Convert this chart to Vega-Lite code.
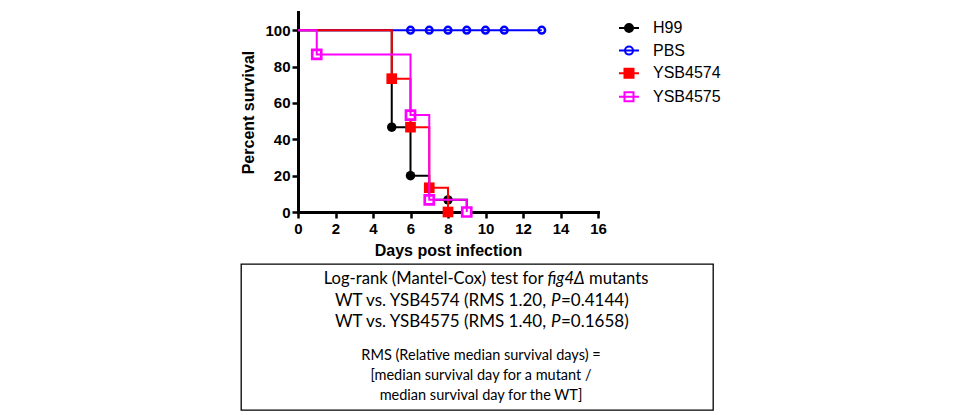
{
  "$schema": "https://vega.github.io/schema/vega-lite/v6.json",
  "background": "white",
  "padding": {"left": 240, "top": 12, "right": 5, "bottom": 0},
  "spacing": 5,
  "columns": 1,
  "align": "none",
  "resolve": {"scale": {"color": "independent"}, "legend": {"color": "independent"}},
  "config": {"view": {"stroke": null}, "font": "Liberation Sans"},
  "datasets": {
    "survival": [
      {"series": "H99", "day": 0, "survival": 100},
      {"series": "H99", "day": 5, "survival": 46.67},
      {"series": "H99", "day": 6, "survival": 20},
      {"series": "H99", "day": 7, "survival": 6.67},
      {"series": "H99", "day": 8, "survival": 6.67},
      {"series": "H99", "day": 9, "survival": 0},
      {"series": "PBS", "day": 0, "survival": 100},
      {"series": "PBS", "day": 6, "survival": 100},
      {"series": "PBS", "day": 7, "survival": 100},
      {"series": "PBS", "day": 8, "survival": 100},
      {"series": "PBS", "day": 9, "survival": 100},
      {"series": "PBS", "day": 10, "survival": 100},
      {"series": "PBS", "day": 11, "survival": 100},
      {"series": "PBS", "day": 13, "survival": 100},
      {"series": "YSB4574", "day": 0, "survival": 100},
      {"series": "YSB4574", "day": 5, "survival": 73.33},
      {"series": "YSB4574", "day": 6, "survival": 46.67},
      {"series": "YSB4574", "day": 7, "survival": 13.33},
      {"series": "YSB4574", "day": 8, "survival": 0},
      {"series": "YSB4575", "day": 0, "survival": 100},
      {"series": "YSB4575", "day": 1, "survival": 86.67},
      {"series": "YSB4575", "day": 6, "survival": 53.33},
      {"series": "YSB4575", "day": 7, "survival": 6.67},
      {"series": "YSB4575", "day": 9, "survival": 0}
    ],
    "notes": [
      {"line": 1, "part": "pre", "text": "Log-rank (Mantel-Cox) test for"},
      {"line": 1, "part": "it", "text": "fig4Δ"},
      {"line": 1, "part": "post", "text": "mutants"},
      {"line": 2, "part": "pre", "text": "WT vs. YSB4574 (RMS 1.20,"},
      {"line": 2, "part": "it", "text": "P"},
      {"line": 2, "part": "post", "text": "=0.4144)"},
      {"line": 3, "part": "pre", "text": "WT vs. YSB4575 (RMS 1.40,"},
      {"line": 3, "part": "it", "text": "P"},
      {"line": 3, "part": "post", "text": "=0.1658)"},
      {"line": 4, "part": "full", "text": "RMS (Relative median survival days) ="},
      {"line": 5, "part": "full", "text": "[median survival day for a mutant  /"},
      {"line": 6, "part": "full", "text": "median survival day for the WT]"}
    ]
  },
  "concat": [
    {
      "width": 357,
      "height": 200,
      "data": {"name": "survival"},
      "encoding": {
        "x": {
          "field": "day", "type": "quantitative",
          "scale": {"domain": [0, 16], "range": [57, 357], "nice": false, "zero": false},
          "axis": {
            "title": "Days post infection", "values": [0, 2, 4, 6, 8, 10, 12, 14, 16],
            "grid": false, "domainColor": "#000000", "domainWidth": 3, "domainCap": "square",
            "tickColor": "#000000", "tickWidth": 2.5, "tickSize": 6,
            "labelFont": "Liberation Sans", "labelFontSize": 15, "labelFontWeight": "bold", "labelColor": "#000000",
            "labelPadding": 3, "labelFlush": false, "labelOverlap": false,
            "titleFont": "Liberation Sans", "titleFontSize": 16, "titleFontWeight": "bold", "titleColor": "#000000",
            "titlePadding": 6
          }
        },
        "y": {
          "field": "survival", "type": "quantitative",
          "scale": {"domain": [0, 110], "nice": false},
          "axis": {
            "title": "Percent survival", "values": [0, 20, 40, 60, 80, 100], "offset": -57,
            "grid": false, "domainColor": "#000000", "domainWidth": 3, "domainCap": "square",
            "tickColor": "#000000", "tickWidth": 2.5, "tickSize": 6,
            "labelFont": "Liberation Sans", "labelFontSize": 15, "labelFontWeight": "bold", "labelColor": "#000000",
            "labelPadding": 2, "labelOverlap": false,
            "titleFont": "Liberation Sans", "titleFontSize": 16, "titleFontWeight": "bold", "titleColor": "#000000",
            "titlePadding": 8
          }
        }
      },
      "layer": [
        {
          "transform": [{"filter": "datum.series === 'H99'"}],
          "mark": {"type": "line", "interpolate": "step-after", "strokeWidth": 2},
          "encoding": {"color": {"field": "series", "type": "nominal",
            "scale": {"domain": ["H99", "PBS", "YSB4574", "YSB4575"], "range": ["#000000", "#0000ff", "#ff0000", "#ff00ff"]},
            "legend": {"title": null, "orient": "right", "offset": 15, "padding": 5, "symbolSize": 400, "symbolStrokeWidth": 2,
              "labelFont": "Liberation Sans", "labelFontSize": 16, "labelColor": "#000000", "labelOffset": 13, "rowPadding": 3.6,
              "encode": {"symbols": {"update": {
                "shape": {"signal": "(datum.value === 'H99' || datum.value === 'PBS') ? 'M-1,0H1M0.4,0A0.4,0.4,0,1,1,-0.4,0A0.4,0.4,0,1,1,0.4,0Z' : 'M-1,0H1M-0.45,-0.45H0.45V0.45H-0.45Z'"},
                "fill": {"signal": "datum.value === 'H99' ? '#000000' : datum.value === 'YSB4574' ? '#ff0000' : '#ffffff'"},
                "opacity": {"value": 1}, "strokeWidth": {"value": 2}}}}}}}
        },
        {
          "transform": [{"filter": "datum.series === 'H99' && datum.day > 0"}],
          "mark": {"type": "point", "shape": "circle", "filled": true, "color": "#000000", "size": 90, "opacity": 1}
        },
        {
          "transform": [{"filter": "datum.series === 'PBS' && datum.day > 0"}],
          "mark": {"type": "point", "shape": "circle", "filled": true, "fill": "#ffffff", "stroke": "#0000ff", "strokeWidth": 2.5, "size": 45, "opacity": 1}
        },
        {
          "transform": [{"filter": "datum.series === 'PBS'"}],
          "mark": {"type": "line", "interpolate": "step-after", "strokeWidth": 2},
          "encoding": {"color": {"field": "series", "type": "nominal",
            "scale": {"domain": ["H99", "PBS", "YSB4574", "YSB4575"], "range": ["#000000", "#0000ff", "#ff0000", "#ff00ff"]},
            "legend": {"title": null, "orient": "right", "offset": 15, "padding": 5, "symbolSize": 400, "symbolStrokeWidth": 2,
              "labelFont": "Liberation Sans", "labelFontSize": 16, "labelColor": "#000000", "labelOffset": 13, "rowPadding": 3.6,
              "encode": {"symbols": {"update": {
                "shape": {"signal": "(datum.value === 'H99' || datum.value === 'PBS') ? 'M-1,0H1M0.4,0A0.4,0.4,0,1,1,-0.4,0A0.4,0.4,0,1,1,0.4,0Z' : 'M-1,0H1M-0.45,-0.45H0.45V0.45H-0.45Z'"},
                "fill": {"signal": "datum.value === 'H99' ? '#000000' : datum.value === 'YSB4574' ? '#ff0000' : '#ffffff'"},
                "opacity": {"value": 1}, "strokeWidth": {"value": 2}}}}}}}
        },
        {
          "transform": [{"filter": "datum.series === 'YSB4574'"}],
          "mark": {"type": "line", "interpolate": "step-after", "strokeWidth": 2},
          "encoding": {"color": {"field": "series", "type": "nominal",
            "scale": {"domain": ["H99", "PBS", "YSB4574", "YSB4575"], "range": ["#000000", "#0000ff", "#ff0000", "#ff00ff"]},
            "legend": {"title": null, "orient": "right", "offset": 15, "padding": 5, "symbolSize": 400, "symbolStrokeWidth": 2,
              "labelFont": "Liberation Sans", "labelFontSize": 16, "labelColor": "#000000", "labelOffset": 13, "rowPadding": 3.6,
              "encode": {"symbols": {"update": {
                "shape": {"signal": "(datum.value === 'H99' || datum.value === 'PBS') ? 'M-1,0H1M0.4,0A0.4,0.4,0,1,1,-0.4,0A0.4,0.4,0,1,1,0.4,0Z' : 'M-1,0H1M-0.45,-0.45H0.45V0.45H-0.45Z'"},
                "fill": {"signal": "datum.value === 'H99' ? '#000000' : datum.value === 'YSB4574' ? '#ff0000' : '#ffffff'"},
                "opacity": {"value": 1}, "strokeWidth": {"value": 2}}}}}}}
        },
        {
          "transform": [{"filter": "datum.series === 'YSB4574' && datum.day > 0"}],
          "mark": {"type": "point", "shape": "square", "filled": true, "color": "#ff0000", "size": 114, "opacity": 1}
        },
        {
          "transform": [{"filter": "datum.series === 'YSB4575' && datum.day > 0"}],
          "mark": {"type": "point", "shape": "square", "filled": true, "fill": "#ffffff", "stroke": "#ff00ff", "strokeWidth": 2.7, "size": 81, "opacity": 1}
        },
        {
          "transform": [{"filter": "datum.series === 'YSB4575'"}],
          "mark": {"type": "line", "interpolate": "step-after", "strokeWidth": 2},
          "encoding": {"color": {"field": "series", "type": "nominal",
            "scale": {"domain": ["H99", "PBS", "YSB4574", "YSB4575"], "range": ["#000000", "#0000ff", "#ff0000", "#ff00ff"]},
            "legend": {"title": null, "orient": "right", "offset": 15, "padding": 5, "symbolSize": 400, "symbolStrokeWidth": 2,
              "labelFont": "Liberation Sans", "labelFontSize": 16, "labelColor": "#000000", "labelOffset": 13, "rowPadding": 3.6,
              "encode": {"symbols": {"update": {
                "shape": {"signal": "(datum.value === 'H99' || datum.value === 'PBS') ? 'M-1,0H1M0.4,0A0.4,0.4,0,1,1,-0.4,0A0.4,0.4,0,1,1,0.4,0Z' : 'M-1,0H1M-0.45,-0.45H0.45V0.45H-0.45Z'"},
                "fill": {"signal": "datum.value === 'H99' ? '#000000' : datum.value === 'YSB4574' ? '#ff0000' : '#ffffff'"},
                "opacity": {"value": 1}, "strokeWidth": {"value": 2}}}}}}}
        }
      ]
    },
    {
      "width": 472,
      "height": 146,
      "view": {"stroke": "#000000", "strokeWidth": 1.3},
      "data": {"name": "notes"},
      "resolve": {"scale": {"y": "independent"}},
      "layer": [
        {
          "transform": [{"filter": "datum.line === 1 && datum.part === 'pre'"}],
          "mark": {"type": "text", "font": "Lato", "fontSize": 16.6, "color": "#000000", "align": "right", "baseline": "alphabetic", "dx": 66.5},
          "encoding": {
            "y": {"field": "line", "type": "quantitative", "scale": {"domain": [0.049, 6.888], "reverse": true, "nice": false, "zero": false}, "axis": null},
            "text": {"field": "text"}
          }
        },
        {
          "transform": [{"filter": "datum.line === 1 && datum.part === 'it'"}],
          "mark": {"type": "text", "font": "Lato", "fontSize": 16.6, "fontStyle": "italic", "color": "#000000", "align": "left", "baseline": "alphabetic", "dx": 70.5},
          "encoding": {
            "y": {"field": "line", "type": "quantitative", "scale": {"domain": [0.049, 6.888], "reverse": true, "nice": false, "zero": false}, "axis": null},
            "text": {"field": "text"}
          }
        },
        {
          "transform": [{"filter": "datum.line === 1 && datum.part === 'post'"}],
          "mark": {"type": "text", "font": "Lato", "fontSize": 16.6, "color": "#000000", "align": "left", "baseline": "alphabetic", "dx": 112},
          "encoding": {
            "y": {"field": "line", "type": "quantitative", "scale": {"domain": [0.049, 6.888], "reverse": true, "nice": false, "zero": false}, "axis": null},
            "text": {"field": "text"}
          }
        },
        {
          "transform": [{"filter": "datum.line >= 2 && datum.line <= 3 && datum.part === 'pre'"}],
          "mark": {"type": "text", "font": "Lato", "fontSize": 17, "color": "#000000", "align": "right", "baseline": "alphabetic", "dx": 69},
          "encoding": {
            "y": {"field": "line", "type": "quantitative", "scale": {"domain": [0.049, 6.888], "reverse": true, "nice": false, "zero": false}, "axis": null},
            "text": {"field": "text"}
          }
        },
        {
          "transform": [{"filter": "datum.line >= 2 && datum.line <= 3 && datum.part === 'it'"}],
          "mark": {"type": "text", "font": "Lato", "fontSize": 17, "fontStyle": "italic", "color": "#000000", "align": "left", "baseline": "alphabetic", "dx": 74},
          "encoding": {
            "y": {"field": "line", "type": "quantitative", "scale": {"domain": [0.049, 6.888], "reverse": true, "nice": false, "zero": false}, "axis": null},
            "text": {"field": "text"}
          }
        },
        {
          "transform": [{"filter": "datum.line >= 2 && datum.line <= 3 && datum.part === 'post'"}],
          "mark": {"type": "text", "font": "Lato", "fontSize": 17, "color": "#000000", "align": "left", "baseline": "alphabetic", "dx": 84},
          "encoding": {
            "y": {"field": "line", "type": "quantitative", "scale": {"domain": [0.049, 6.888], "reverse": true, "nice": false, "zero": false}, "axis": null},
            "text": {"field": "text"}
          }
        },
        {
          "transform": [{"filter": "datum.part === 'full'"}],
          "mark": {"type": "text", "font": "Lato", "fontSize": 14.5, "color": "#000000", "align": "center", "baseline": "alphabetic", "dx": 4},
          "encoding": {
            "y": {"field": "line", "type": "quantitative", "scale": {"domain": [-0.815, 6.485], "reverse": true, "nice": false, "zero": false}, "axis": null},
            "text": {"field": "text"}
          }
        }
      ]
    }
  ]
}
